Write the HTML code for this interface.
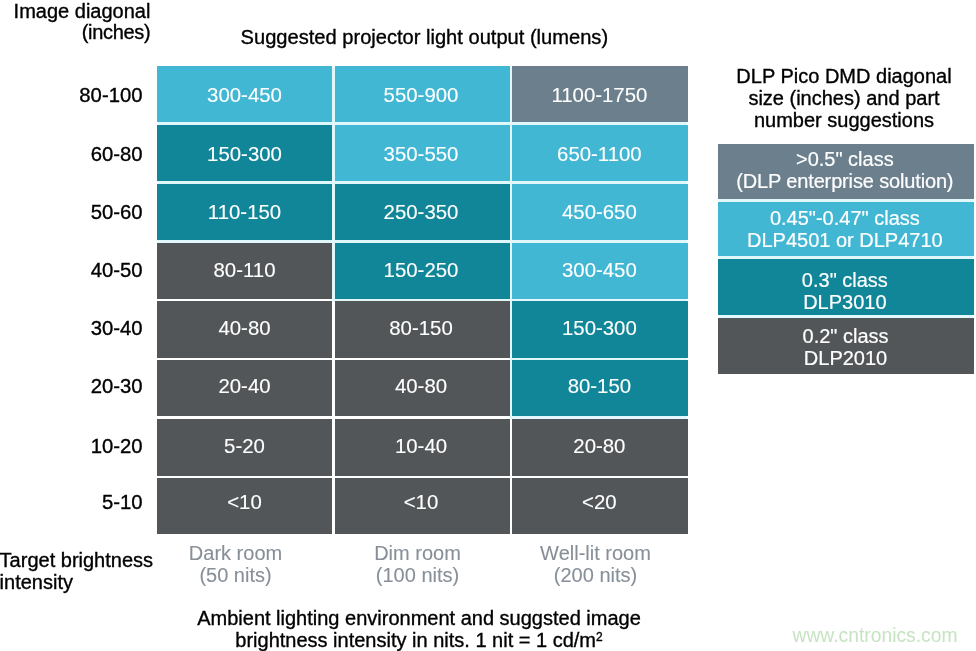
<!DOCTYPE html>
<html><head><meta charset="utf-8">
<style>
html,body{margin:0;padding:0;background:#fff;}
body{width:976px;height:651px;position:relative;overflow:hidden;font-family:"Liberation Sans",sans-serif;font-size:20px;color:#000;}
.a{position:absolute;white-space:nowrap;line-height:22px;-webkit-text-stroke:0.35px #000;}
.c{position:absolute;color:#fff;text-align:center;font-size:20.4px;-webkit-text-stroke:0.12px #fff;white-space:nowrap;overflow:hidden;}
.lb{background:#42b7d3;}
.tl{background:#118698;}
.tn{position:absolute;background:#e0f8fc;}
.dg{background:#535658;}
.sg{background:#6b7f8d;}
.rl{position:absolute;left:0;width:142.5px;text-align:right;font-size:20.3px;-webkit-text-stroke:0.35px #000;white-space:nowrap;}
.lg{position:absolute;left:718px;width:255.7px;color:#fff;text-align:center;line-height:22px;-webkit-text-stroke:0.2px #fff;white-space:nowrap;}
.lg div{position:relative;left:-1px;}
.cl{position:absolute;color:#878f98;-webkit-text-stroke:0.1px #878f98;text-align:center;width:175px;line-height:22px;white-space:nowrap;}
</style></head><body>
<div class="a" id="t1" style="left:0;width:150.4px;text-align:right;top:0.6px;line-height:21.4px;">Image diagonal<br><span style="letter-spacing:-0.3px">(inches)</span></div>
<div class="a" id="t2" style="left:240.6px;top:26px;font-size:20.1px;">Suggested projector light output (lumens)</div>

<div class="tn" style="left:158px;top:67px;width:529px;height:176px"></div>
<div class="tn" style="left:332px;top:243px;width:355px;height:58.5px"></div>
<div class="tn" style="left:510px;top:301px;width:177px;height:118px"></div>
<div class="tn" style="left:719px;top:199px;width:254px;height:119.5px"></div>
<div class="rl" style="top:66px;height:56.1px;line-height:58.8px">80-100</div>
<div class="c lb" style="left:157px;top:66px;width:175px;height:56.1px;line-height:58.2px;">300-450</div>
<div class="c lb" style="left:335px;top:66px;width:175px;height:56.1px;line-height:58.2px;text-indent:-3px;">550-900</div>
<div class="c sg" style="left:512.4px;top:66px;width:175.4px;height:56.1px;line-height:58.2px;text-indent:-1.4px;">1100-1750</div>
<div class="rl" style="top:125px;height:55.8px;line-height:59.6px">60-80</div>
<div class="c tl" style="left:157px;top:125px;width:175px;height:55.8px;line-height:59.0px;">150-300</div>
<div class="c lb" style="left:335px;top:125px;width:175px;height:55.8px;line-height:59.0px;text-indent:-3px;">350-550</div>
<div class="c lb" style="left:512.4px;top:125px;width:175.4px;height:55.8px;line-height:59.0px;text-indent:-1.4px;">650-1100</div>
<div class="rl" style="top:184px;height:55.8px;line-height:57.2px">50-60</div>
<div class="c tl" style="left:157px;top:184px;width:175px;height:55.8px;line-height:56.6px;">110-150</div>
<div class="c tl" style="left:335px;top:184px;width:175px;height:55.8px;line-height:56.6px;text-indent:-3px;">250-350</div>
<div class="c lb" style="left:512.4px;top:184px;width:175.4px;height:55.8px;line-height:56.6px;text-indent:-1.4px;">450-650</div>
<div class="rl" style="top:242.8px;height:56px;line-height:54.8px">40-50</div>
<div class="c dg" style="left:157px;top:242.8px;width:175px;height:56px;line-height:55.6px;">80-110</div>
<div class="c tl" style="left:335px;top:242.8px;width:175px;height:56px;line-height:55.6px;text-indent:-3px;">150-250</div>
<div class="c lb" style="left:512.4px;top:242.8px;width:175.4px;height:56px;line-height:55.6px;text-indent:-1.4px;">300-450</div>
<div class="rl" style="top:301.2px;height:56.6px;line-height:54.6px">30-40</div>
<div class="c dg" style="left:157px;top:301.2px;width:175px;height:56.6px;line-height:54.0px;">40-80</div>
<div class="c dg" style="left:335px;top:301.2px;width:175px;height:56.6px;line-height:54.0px;text-indent:-3px;">80-150</div>
<div class="c tl" style="left:512.4px;top:301.2px;width:175.4px;height:56.6px;line-height:54.0px;text-indent:-1.4px;">150-300</div>
<div class="rl" style="top:360.1px;height:56.4px;line-height:52.8px">20-30</div>
<div class="c dg" style="left:157px;top:360.1px;width:175px;height:56.4px;line-height:53.6px;">20-40</div>
<div class="c dg" style="left:335px;top:360.1px;width:175px;height:56.4px;line-height:53.6px;text-indent:-3px;">40-80</div>
<div class="c tl" style="left:512.4px;top:360.1px;width:175.4px;height:56.4px;line-height:53.6px;text-indent:-1.4px;">80-150</div>
<div class="rl" style="top:419.3px;height:56.3px;line-height:54.6px">10-20</div>
<div class="c dg" style="left:157px;top:419.3px;width:175px;height:56.3px;line-height:54.0px;">5-20</div>
<div class="c dg" style="left:335px;top:419.3px;width:175px;height:56.3px;line-height:54.0px;text-indent:-3px;">10-40</div>
<div class="c dg" style="left:512.4px;top:419.3px;width:175.4px;height:56.3px;line-height:54.0px;text-indent:-1.4px;">20-80</div>
<div class="rl" style="top:478.2px;height:56.1px;line-height:49.8px">5-10</div>
<div class="c dg" style="left:157px;top:478.2px;width:175px;height:56.1px;line-height:49.2px;">&lt;10</div>
<div class="c dg" style="left:335px;top:478.2px;width:175px;height:56.1px;line-height:49.2px;text-indent:-3px;">&lt;10</div>
<div class="c dg" style="left:512.4px;top:478.2px;width:175.4px;height:56.1px;line-height:49.2px;text-indent:-1.4px;">&lt;20</div>

<div class="a" id="lh" style="left:716px;width:256px;text-align:center;top:65px;">DLP Pico DMD diagonal<br>size (inches) and part<br>number suggestions</div>

<div class="lg sg" style="top:143.8px;height:55.5px;"><div style="padding-top:4.4px">&gt;0.5" class<br><span style="letter-spacing:-0.15px">(DLP enterprise solution)</span></div></div>
<div class="lg lb" style="top:202px;height:54.3px;"><div style="padding-top:5px">0.45"-0.47" class<br>DLP4501 or DLP4710</div></div>
<div class="lg tl" style="top:259px;height:55.7px;"><div style="padding-top:9.8px">0.3" class<br>DLP3010</div></div>
<div class="lg dg" style="top:318.4px;height:56px;"><div style="padding-top:6.5px;left:-0.3px">0.2" class<br>DLP2010</div></div>

<div class="a" id="tb" style="left:-0.4px;top:549.3px;">Target brightness<br>intensity</div>

<div class="cl" style="left:148px;top:541.5px;">Dark room<br>(50 nits)</div>
<div class="cl" style="left:330px;top:541.5px;">Dim room<br>(100 nits)</div>
<div class="cl" style="left:508px;top:541.5px;">Well-lit room<br>(200 nits)</div>

<div class="a" id="cap" style="left:156px;width:526px;text-align:center;top:606.7px;">Ambient lighting environment and suggsted image<br>brightness intensity in nits. 1 nit = 1 cd/m<span style="font-size:12px;position:relative;top:-6px;">2</span></div>

<div class="a" id="wm" style="left:792.5px;top:625px;color:#c6e3c2;font-size:19.3px;-webkit-text-stroke:0;">www.cntronics.com</div>
</body></html>
